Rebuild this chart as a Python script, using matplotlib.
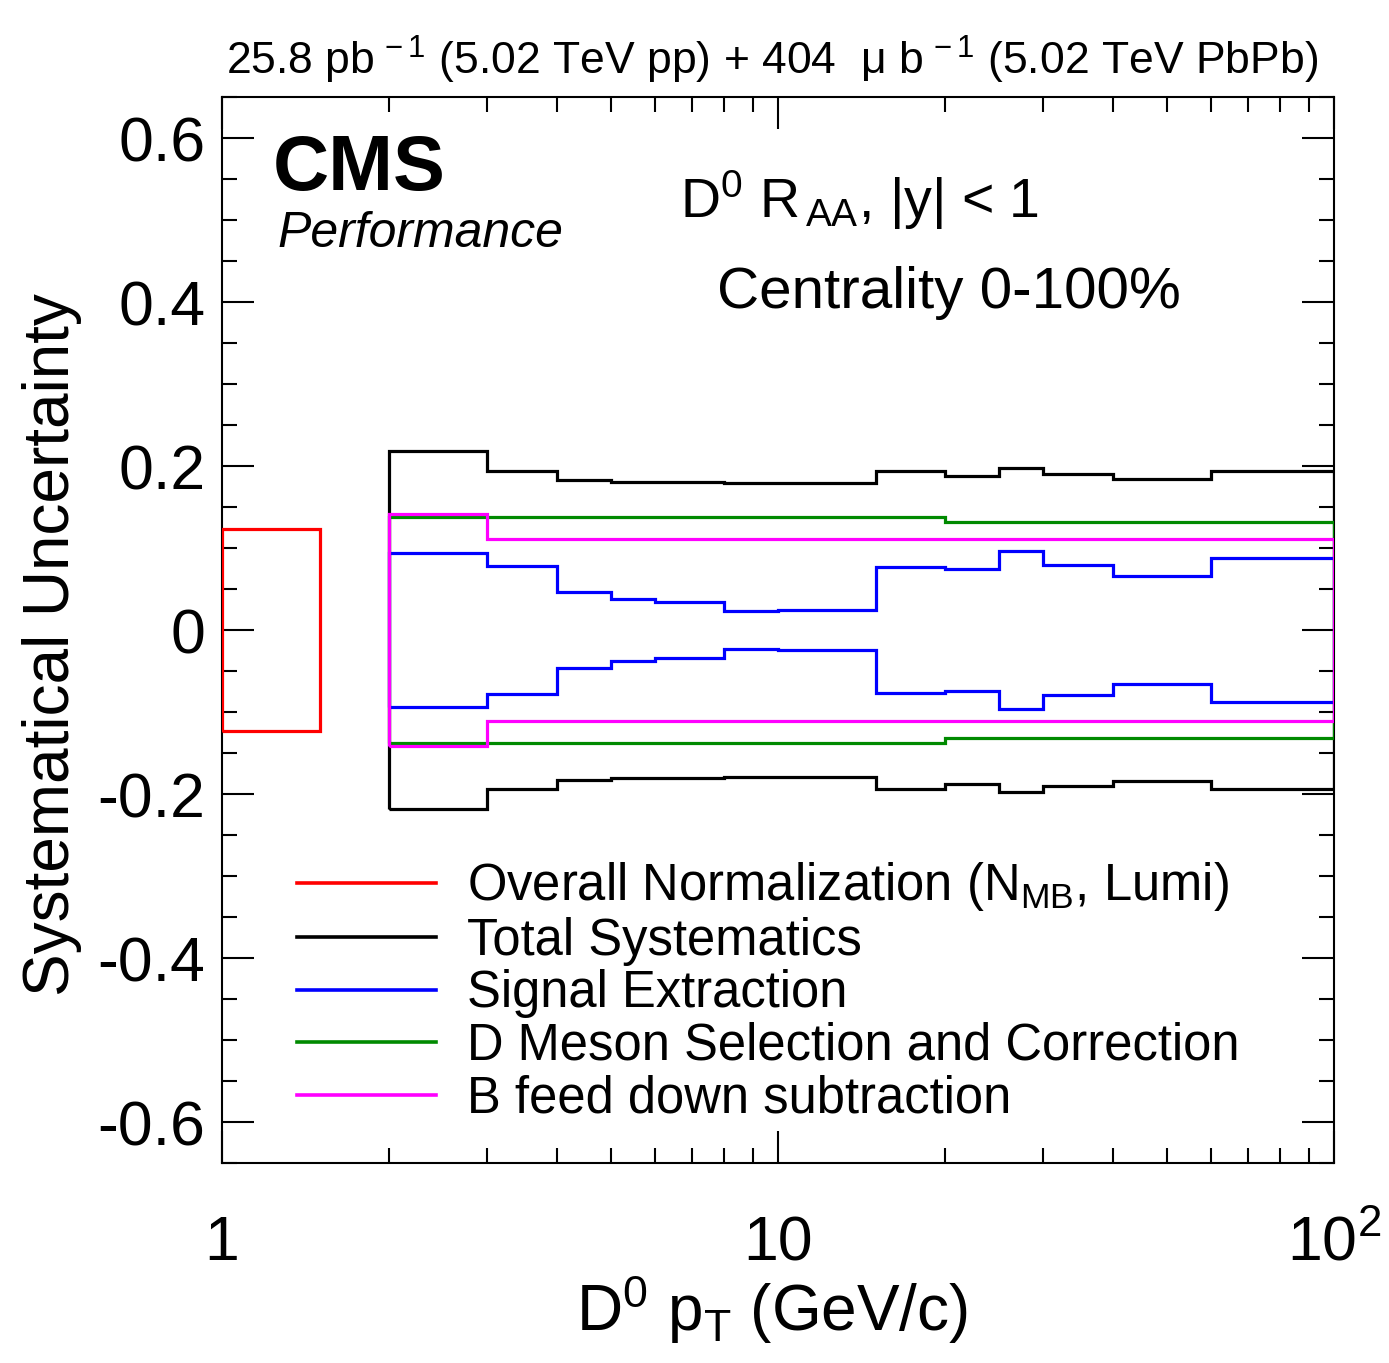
import matplotlib
matplotlib.use("Agg")
import matplotlib.pyplot as plt
from matplotlib.lines import Line2D
from matplotlib.ticker import MultipleLocator, LogLocator, NullFormatter

plt.rcParams["font.family"] = ["Liberation Sans", "DejaVu Sans"]
plt.rcParams["mathtext.fontset"] = "custom"
plt.rcParams["mathtext.rm"] = "Liberation Sans"
plt.rcParams["mathtext.it"] = "Liberation Sans:italic"
plt.rcParams["mathtext.bf"] = "Liberation Sans:bold"
plt.rcParams["mathtext.default"] = "regular"

# D0 pT bin edges (GeV/c) and relative systematic uncertainties per bin
pt_edges = [2, 3, 4, 5, 6, 8, 10, 15, 20, 25, 30, 40, 60, 100]
total_sys = [0.218, 0.194, 0.183, 0.181, 0.180, 0.179, 0.179,
             0.1935, 0.188, 0.1975, 0.190, 0.1845, 0.194]
signal_ext = [0.0945, 0.078, 0.046, 0.0377, 0.034, 0.0235, 0.0247,
              0.077, 0.0738, 0.096, 0.0787, 0.066, 0.0872]
dmeson_sel = [0.138, 0.138, 0.138, 0.138, 0.138, 0.138, 0.138,
              0.138, 0.132, 0.132, 0.132, 0.132, 0.132]
bfeed_down = [0.1415, 0.1115, 0.1115, 0.1115, 0.1115, 0.1115, 0.1115,
              0.1115, 0.1115, 0.1115, 0.1115, 0.1115, 0.1115]

# global normalisation box drawn at low pT
norm_edges = [1, 1.5]
norm_unc = [0.123]

labels = ["Overall Normalization (N$_{MB}$, Lumi)", "Total Systematics",
          "Signal Extraction", "D Meson Selection and Correction",
          "B feed down subtraction"]
colors = ["#ff0000", "#000000", "#0000ff", "#008a00", "#ff00ff"]

ytick_vals = [-0.6, -0.4, -0.2, 0, 0.2, 0.4, 0.6]
ytick_labels = ["-0.6", "-0.4", "-0.2", "0", "0.2", "0.4", "0.6"]
xtick_vals = [1, 10, 100]
xtick_labels = ["1", "10", "$10^{2}$"]

W, H = 1389, 1363
fig = plt.figure(figsize=(W / 100, H / 100), dpi=100)
ax = fig.add_axes([222 / W, 1 - 1163 / H, (1334 - 222) / W, (1163 - 97) / H])

lw = 2.3
ax.stairs(norm_unc, norm_edges, baseline=[-v for v in norm_unc],
          color=colors[0], lw=lw, zorder=3)
series = [total_sys, signal_ext, dmeson_sel, bfeed_down]
for vals, c in zip(series, colors[1:]):
    ax.stairs(vals, pt_edges, baseline=[-v for v in vals], color=c, lw=lw,
              zorder=3)

ax.set_xscale("log")
ax.set_xlim(1, 100)
ax.set_ylim(-0.65, 0.65)
ax.set_xticks(xtick_vals, xtick_labels)
ax.xaxis.set_minor_locator(LogLocator(base=10, subs=range(2, 10)))
ax.xaxis.set_minor_formatter(NullFormatter())
ax.set_yticks(ytick_vals, ytick_labels)
ax.yaxis.set_minor_locator(MultipleLocator(0.05))

for s in ax.spines.values():
    s.set_linewidth(1.5)
ax.tick_params(which="both", direction="in", top=True, right=True, width=1.5)
ax.tick_params(which="major", length=23)
ax.tick_params(which="minor", length=11)
ax.tick_params(axis="y", labelsize=45, pad=12)
ax.tick_params(axis="x", labelsize=45, pad=70)
for t in ax.get_xticklabels():
    t.set_va("baseline")
for t in ax.get_yticklabels():
    t.set_va("center_baseline")

handles = [Line2D([], [], color=c, lw=2.6) for c in colors]
ax.legend(handles, labels, loc="upper left", bbox_to_anchor=(0.067, 0.284),
          frameon=False, fontsize=36.5, handlelength=2.75, handletextpad=0.62,
          labelspacing=0.07, borderpad=0, borderaxespad=0)


def px(x, y):
    return x / W, 1 - y / H


fig.text(*px(1318, 75),
         "25.8 pb$^{\\,-1}$ (5.02 TeV pp) + 404  $\\mu$ b$^{\\,-1}$ (5.02 TeV PbPb)",
         ha="right", va="baseline", fontsize=32)
fig.text(*px(273, 190), "CMS", fontsize=56, fontweight="bold", va="baseline")
fig.text(*px(277, 247), "Performance", fontsize=36, style="italic", va="baseline")
fig.text(*px(680, 218), "D$^{0}$ R$_{\\,AA}$, |y| < 1", fontsize=40, va="baseline")
fig.text(*px(717, 308), "Centrality 0-100%", fontsize=42, va="baseline")
fig.text(*px(772, 1331), "D$^{0}$ p$_{T}$ (GeV/c)", fontsize=46, ha="center", va="baseline")
fig.text(*px(52, 645), "Systematical Uncertainty", fontsize=46, rotation=90,
         ha="center", va="center")

fig.savefig("out.png", dpi=100)
